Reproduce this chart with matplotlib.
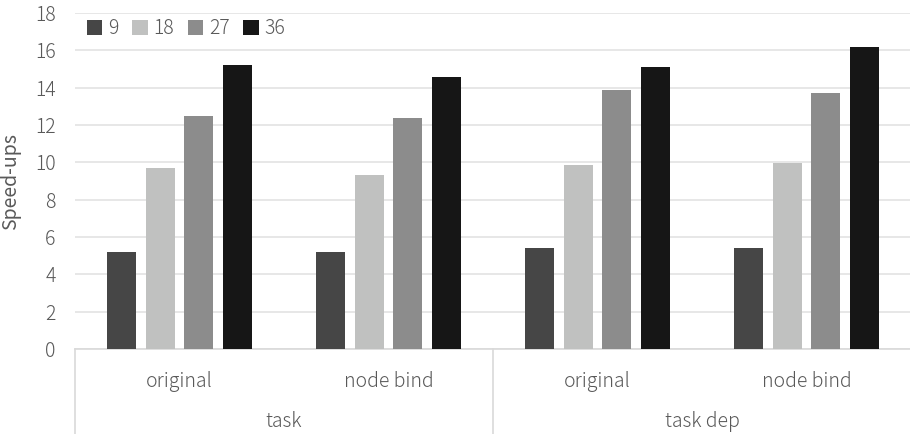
import numpy as np
import matplotlib
matplotlib.use("Agg")
import matplotlib.pyplot as plt
from matplotlib.transforms import blended_transform_factory

plt.rcParams['font.family'] = ['Noto Sans CJK JP', 'DejaVu Sans']
plt.rcParams['font.weight'] = 'light'

# speed-ups per configuration, one list per thread count
groups = ["task", "task dep"]
variants = ["original", "node bind", "original", "node bind"]
threads = ["9", "18", "27", "36"]
speedup_9 = [5.2, 5.2, 5.4, 5.4]
speedup_18 = [9.7, 9.3, 9.85, 9.95]
speedup_27 = [12.5, 12.4, 13.9, 13.7]
speedup_36 = [15.2, 14.55, 15.1, 16.2]
colors = ["#464646", "#c0c1c0", "#8c8c8c", "#161616"]

series = [speedup_9, speedup_18, speedup_27, speedup_36]
txt = "#595959"

fig = plt.figure(figsize=(9.1, 4.34), dpi=100)
ax = fig.add_axes([75/910, 85/434, 836/910, 336/434])

x = np.arange(len(variants))
width = 0.14
step = 0.184
for i, (vals, c, lab) in enumerate(zip(series, colors, threads)):
    ax.bar(x + (i - 1.5) * step, vals, width, color=c, label=lab, zorder=3)

ax.set_xlim(-0.5, 3.5)
ax.set_ylim(0, 18)
ax.set_yticks(range(0, 19, 2))
ax.yaxis.grid(True, color="#e3e3e3", linewidth=1.2, zorder=0)
for s in ["top", "right", "left"]:
    ax.spines[s].set_visible(False)
ax.spines["bottom"].set_color("#d9d9d9")
ax.spines["bottom"].set_linewidth(1.2)
ax.tick_params(axis="y", length=0, labelsize=14, labelcolor=txt, pad=14)
ax.tick_params(axis="x", length=0, labelsize=14, labelcolor=txt, pad=16)
ax.set_xticks(x)
ax.set_xticklabels(variants)
ax.set_ylabel("Speed-ups", fontsize=14, color=txt, labelpad=10)

# second row of category labels with separators
tr = blended_transform_factory(ax.transData, ax.transAxes)
for j, g in enumerate(groups):
    ax.text(0.5 + 2 * j, -0.215, g, transform=tr, ha="center", va="center",
            fontsize=14, color=txt)
for sx in [-0.5, 1.5]:
    ax.plot([sx, sx], [0, -0.26], transform=tr, color="#d9d9d9",
            linewidth=1.2, clip_on=False)

ax.legend(loc="upper left", bbox_to_anchor=(0.0, 1.02), ncol=4, frameon=False,
          fontsize=14, labelcolor=txt, handlelength=0.8, handleheight=0.8,
          handletextpad=0.3, columnspacing=0.7, borderaxespad=0.2)

fig.savefig("out.png", dpi=100)
